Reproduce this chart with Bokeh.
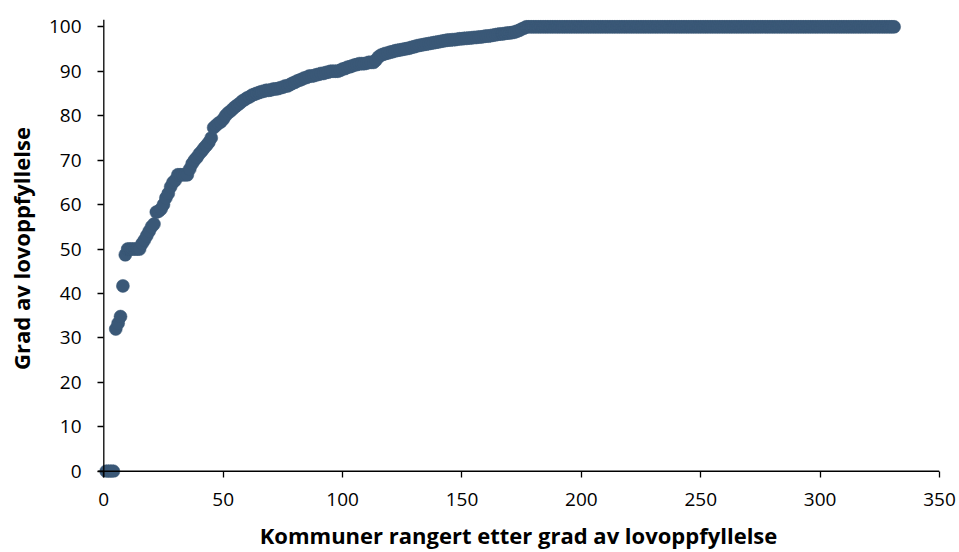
from bokeh.plotting import figure
from bokeh.models import Range1d, FixedTicker, ColumnDataSource, LinearAxis, Span
from bokeh.embed import file_html
from bokeh.resources import INLINE

# Ranked municipalities (1..331) and their degree of legal compliance (%)
rising_part = [
    0, 0, 0, 0, 32.0, 33.3, 34.8, 41.7, 48.7, 50.0,
    50.0, 50.0, 50.0, 50.0, 50.0, 51.2, 52.0, 53.0, 54.0, 55.0,
    55.6, 58.3, 58.5, 59.0, 60.0, 61.5, 62.5, 64.0, 65.0, 65.5,
    66.7, 66.7, 66.7, 66.7, 66.7, 68.0, 69.2, 70.0, 70.6, 71.4,
    72.0, 72.7, 73.3, 74.0, 75.0, 77.3, 77.8, 78.3, 78.6, 79.2,
    80.0, 80.6, 81.0, 81.5, 82.0, 82.4, 82.8, 83.3, 83.6, 84.0,
    84.2, 84.6, 84.8, 85.0, 85.2, 85.4, 85.5, 85.7, 85.7, 85.8,
    86.0, 86.0, 86.1, 86.3, 86.4, 86.7, 86.7, 87.0, 87.3, 87.5,
    87.8, 88.0, 88.2, 88.5, 88.6, 88.9, 88.9, 89.0, 89.2, 89.3,
    89.5, 89.5, 89.7, 89.8, 90.0, 90.0, 90.0, 90.0, 90.2, 90.5,
    90.6, 90.9, 91.0, 91.2, 91.4, 91.5, 91.7, 91.7, 91.7, 91.8,
    92.0, 92.0, 92.0, 92.5, 93.2, 93.6, 93.8, 94.0, 94.1, 94.3,
    94.4, 94.6, 94.7, 94.8, 94.9, 95.0, 95.1, 95.2, 95.4, 95.5,
    95.7, 95.8, 95.9, 96.0, 96.1, 96.2, 96.3, 96.4, 96.5, 96.6,
    96.7, 96.8, 96.9, 97.0, 97.0, 97.1, 97.1, 97.2, 97.3, 97.3,
    97.4, 97.4, 97.5, 97.5, 97.6, 97.6, 97.7, 97.7, 97.8, 97.9,
    97.9, 98.0, 98.1, 98.2, 98.3, 98.4, 98.4, 98.5, 98.6, 98.6,
    98.7, 98.8, 99.0, 99.2, 99.5, 99.7,
]
full_compliance_count = 155
compliance = rising_part + [100.0] * full_compliance_count
rank = list(range(1, len(compliance) + 1))

x_ticks = [0, 50, 100, 150, 200, 250, 300, 350]
y_ticks = [0, 10, 20, 30, 40, 50, 60, 70, 80, 90, 100]

x_title = "Kommuner rangert etter grad av lovoppfyllelse"
y_title = "Grad av lovoppfyllelse"

FONT = "Open Sans"
COLOR = "#3A5877"

# frame is a little larger than the data box so that markers on 0 and 100 are not clipped
p = figure(
    width=959, height=552,
    output_backend="svg", toolbar_location=None,
    x_range=Range1d(-2.64, x_ticks[-1]), y_range=Range1d(-1.41, 101.64),
    min_border_left=97, min_border_right=20,
    min_border_top=19, min_border_bottom=74,
    x_axis_location=None, y_axis_location=None,
)
p.outline_line_color = None
p.xgrid.grid_line_color = None
p.ygrid.grid_line_color = None
p.background_fill_color = "white"
p.border_fill_color = "white"

src = ColumnDataSource(dict(x=rank, y=compliance))
p.scatter("x", "y", source=src, size=13, fill_color=COLOR, line_color=COLOR,
          line_width=0.5)

# axis lines through the origin
p.add_layout(Span(location=y_ticks[0], dimension="width",
                  line_color="black", line_width=1.3))
p.add_layout(Span(location=x_ticks[0], dimension="height",
                  line_color="black", line_width=1.3))


# edge axes: labels and tick marks (ticks point inward up to the zero lines)
def edge_axis(ticks, title, label_standoff, title_standoff):
    return LinearAxis(ticker=FixedTicker(ticks=ticks), axis_label=title,
                      minor_tick_line_color=None, major_tick_out=0, major_tick_in=6,
                      axis_line_color=None, major_tick_line_color="black",
                      major_tick_line_width=1.3,
                      major_label_text_font=FONT, major_label_text_font_size="19px",
                      major_label_text_color="black",
                      major_label_standoff=label_standoff,
                      axis_label_text_font=FONT, axis_label_text_font_size="22px",
                      axis_label_text_font_style="bold", axis_label_text_color="black",
                      axis_label_standoff=title_standoff)


p.add_layout(edge_axis(x_ticks, x_title, 15, 11), "below")
p.add_layout(edge_axis(y_ticks, y_title, 16, 10), "left")

open("out.html", "w").write(file_html(p, INLINE))
